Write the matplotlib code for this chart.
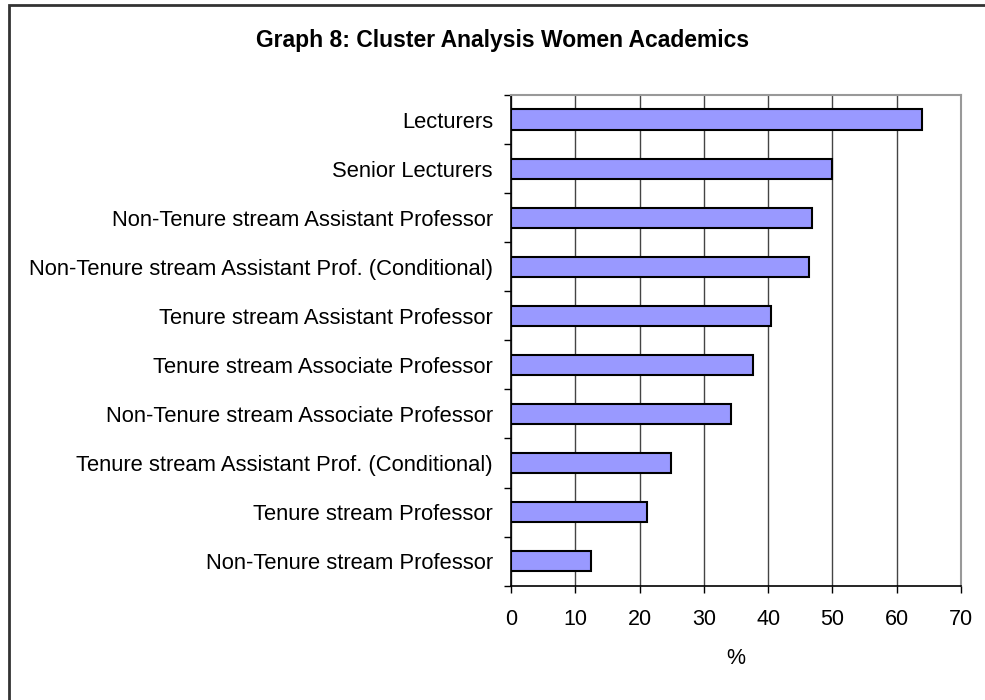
import matplotlib.pyplot as plt
from matplotlib.patches import Rectangle
import numpy as np

plt.rcParams['font.family'] = ['Liberation Sans', 'DejaVu Sans']

# top to bottom as in the chart
categories = [
	"Lecturers",
	"Senior Lecturers",
	"Non-Tenure stream Assistant Professor",
	"Non-Tenure stream Assistant Prof. (Conditional)",
	"Tenure stream Assistant Professor",
	"Tenure stream Associate Professor",
	"Non-Tenure stream Associate Professor",
	"Tenure stream Assistant Prof. (Conditional)",
	"Tenure stream Professor",
	"Non-Tenure stream Professor",
]
percent = [64.0, 50.0, 46.9, 46.3, 40.4, 37.6, 34.2, 24.9, 21.2, 12.5]
x_ticks = [0, 10, 20, 30, 40, 50, 60, 70]


if __name__ == "__main__":
	fig = plt.figure(figsize = (9.85, 7), dpi = 100)
	ax = fig.add_axes([511 / 985, 1 - 585.7 / 700, 450 / 985, 490.7 / 700])

	pos = np.arange(len(categories))
	ax.barh(pos, percent, height = 0.41, color = "#9999FF", edgecolor = "black", linewidth = 1.5, zorder = 3)
	ax.set_ylim(len(categories) - 0.5, -0.5)
	ax.set_xlim(0, 70)

	ax.set_yticks(pos)
	ax.set_yticklabels(categories, fontsize = 15.8)
	ax.set_yticks(np.arange(-0.5, len(categories), 1), minor = True)
	ax.tick_params(axis = "y", which = "major", length = 0, pad = 13)
	ax.tick_params(axis = "y", which = "minor", length = 5, width = 1, direction = "out")
	ax.set_xticks(x_ticks)
	ax.tick_params(axis = "x", length = 5, width = 1, direction = "out", labelsize = 15.5, pad = 12)

	ax.grid(axis = "x", color = "#444444", linewidth = 1, zorder = 0)
	ax.spines["top"].set_color("#999999")
	ax.spines["right"].set_color("#999999")
	ax.spines["top"].set_linewidth(1.5)
	ax.spines["right"].set_linewidth(1.5)
	ax.spines["left"].set_linewidth(1.2)
	ax.spines["bottom"].set_linewidth(1.2)

	ax.set_xlabel("%", fontsize = 15.5, labelpad = 13)
	fig.text(503 / 985, 1 - 40 / 700, "Graph 8: Cluster Analysis Women Academics",
		ha = "center", va = "center", fontsize = 16.5, fontweight = "bold")

	# chart border
	fig.patches.append(Rectangle((9 / 985, -0.1), 1.2, 1 - 5 / 700 + 0.1, transform = fig.transFigure,
		fill = False, edgecolor = "#333333", linewidth = 2))

	plt.savefig("out.png")
	plt.close()
